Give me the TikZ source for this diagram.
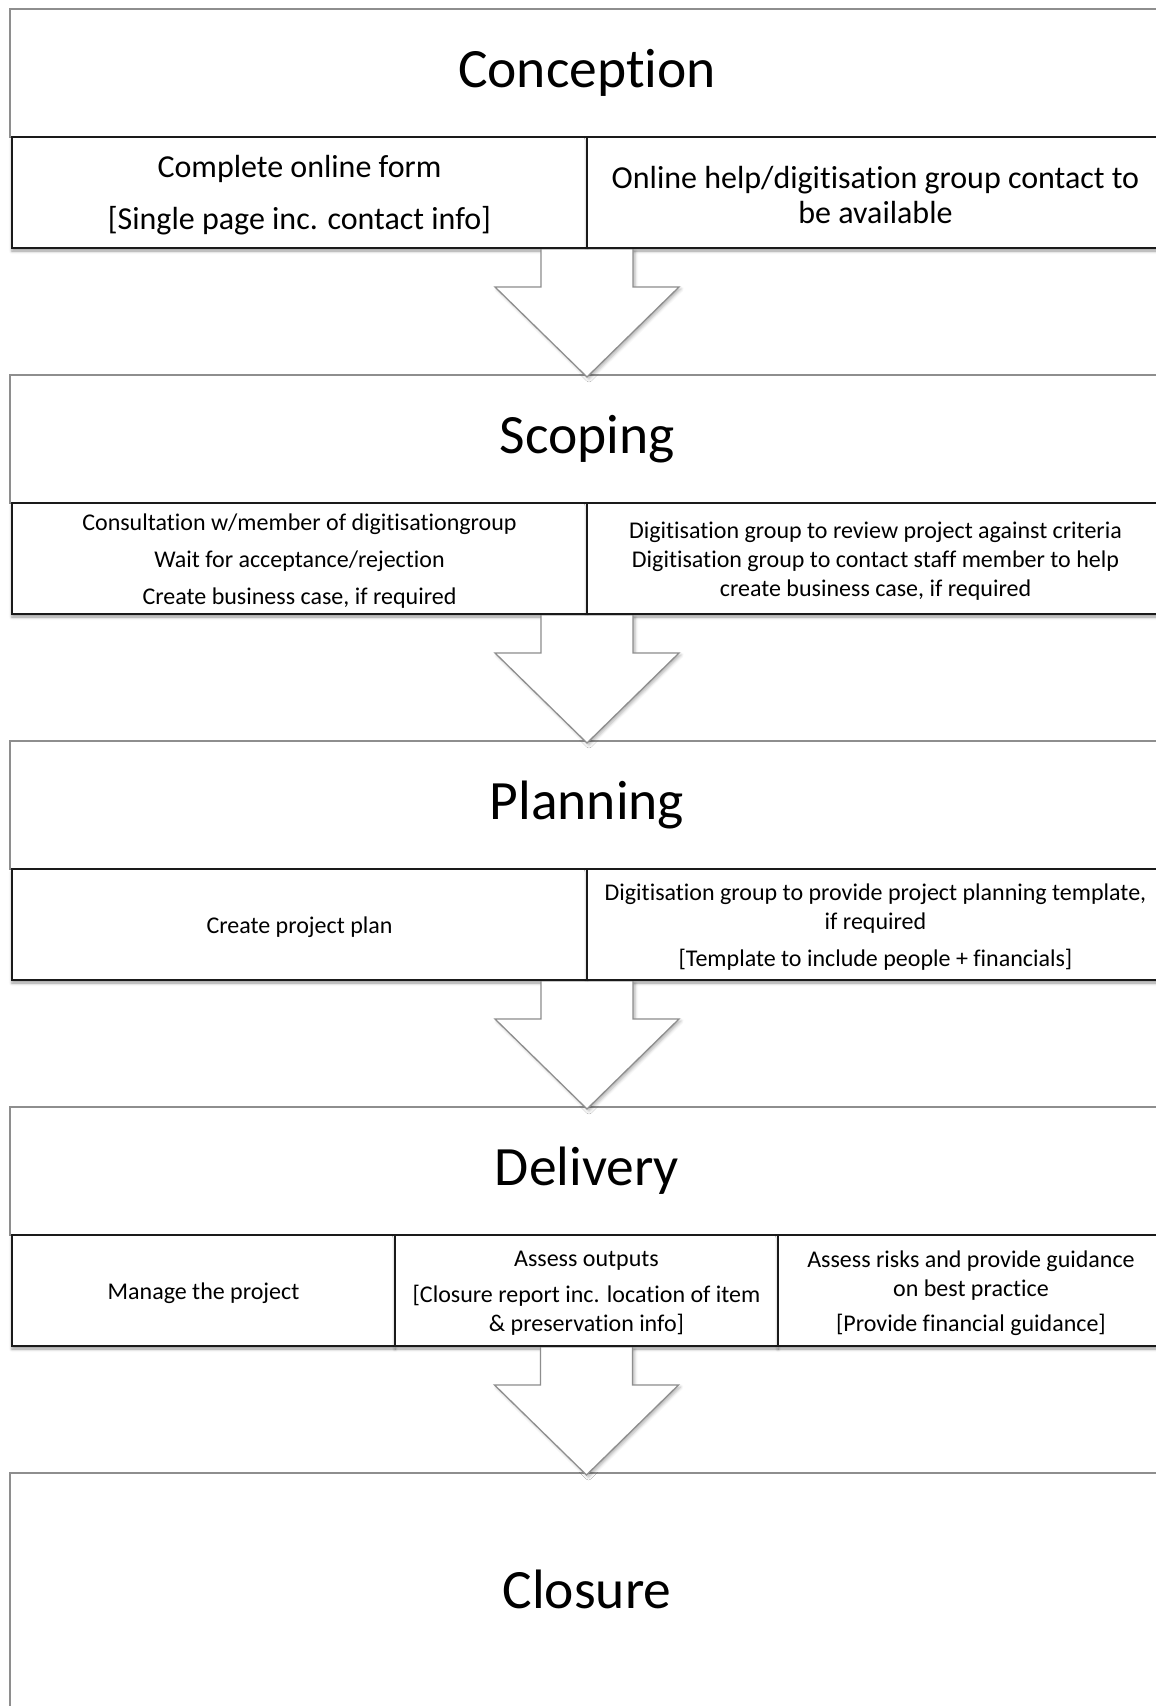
\documentclass[tikz,border=0pt]{standalone}
\usepackage{fontspec}
\setmainfont{Carlito}[Ligatures={NoCommon}]
\usetikzlibrary{shadows.blur,calc}
\definecolor{boxgray}{HTML}{8E8E8E}
\definecolor{tabline}{HTML}{1A1A1A}
\begin{document}
\begin{tikzpicture}[x=1pt,y=-1pt, every node/.style={outer sep=0pt},
  hdr/.style={draw=boxgray, line width=1.3pt, fill=white, anchor=north west,
    minimum width=1154pt, minimum height=128pt, inner sep=0pt,
    text height=36.6pt, text depth=8pt,
    font=\fontsize{55.5}{60}\selectfont},
  cell/.style={draw=tabline, line width=2.2pt, fill=white, anchor=north west,
    minimum height=111pt, inner sep=0pt,
    blur shadow={shadow xshift=0pt, shadow yshift=-3pt, shadow blur radius=3pt, shadow opacity=40}},
  celltext/.style={align=center, inner sep=0pt, yshift=-2.5pt,
    font=\fontsize{24}{29}\selectfont},
  bigtext/.style={celltext, font=\fontsize{32}{35}\selectfont},
  arrowfill/.style={fill=white, blur shadow={shadow xshift=2pt, shadow yshift=-2pt, shadow blur radius=3pt, shadow opacity=30}},
  arrowline/.style={draw=boxgray, line width=1.3pt, line join=miter}
]
\useasboundingbox (0,0) rectangle (1156,1706);
\clip (0,0) rectangle (1156,1706);

% stage headers
\node[hdr] (h1) at (10,9) {Conception};
\node[hdr] (h2) at (10,375) {Scoping};
\node[hdr] (h3) at (10,741) {Planning};
\node[hdr] (h4) at (10,1107) {Delivery};
\node[hdr, minimum height=242pt] (h5) at (10,1473) {Closure};

% Conception table
\node[cell, minimum width=575pt] (c1a) at (12,137) {};
\node[cell, minimum width=577pt] (c1b) at (c1a.north east) {};
\node[bigtext] (t1a) at (c1a.center)
  {Complete online form\\[17pt][Single page inc. contact info]};
\node[bigtext] (t1b) at (c1b.center)
  {Online help/digitisation group contact to\\be available};

% Scoping table
\node[cell, minimum width=575pt] (c2a) at (12,503) {};
\node[cell, minimum width=577pt] (c2b) at (c2a.north east) {};
\node[celltext] (t2a) at (c2a.center)
  {Consultation w/member of digitisationgroup\\[8pt]Wait for acceptance/rejection\\[8pt]Create business case, if required};
\node[celltext] (t2b) at (c2b.center)
  {Digitisation group to review project against criteria\\Digitisation group to contact staff member to help\\create business case, if required};

% Planning table
\node[cell, minimum width=575pt] (c3a) at (12,869) {};
\node[cell, minimum width=577pt] (c3b) at (c3a.north east) {};
\node[celltext] (t3a) at (c3a.center) {Create project plan};
\node[celltext] (t3b) at (c3b.center)
  {Digitisation group to provide project planning template,\\if required\\[8pt][Template to include people + financials]};

% Delivery table
\node[cell, minimum width=383pt] (c4a) at (12,1235) {};
\node[cell, minimum width=383pt] (c4b) at (c4a.north east) {};
\node[cell, minimum width=386pt] (c4c) at (c4b.north east) {};
\node[celltext] (t4a) at (c4a.center) {Manage the project};
\node[celltext] (t4b) at (c4b.center)
  {Assess outputs\\[7pt][Closure report inc. location of item\\\& preservation info]};
\node[celltext] (t4c) at (c4c.center)
  {Assess risks and provide guidance\\on best practice\\[6pt][Provide financial guidance]};

% arrow start points
\coordinate (a1) at (c1a.south east);
\coordinate (a2) at (c2a.south east);
\coordinate (a3) at (c3a.south east);
\coordinate (a4) at (c4b.south);

\foreach \a in {a1,a2,a3,a4}{
  \fill[arrowfill] (\a) ++(-46,1.5) -- ++(0,37.5) -- ++(-46,0) -- ++(92,90)
     -- ++(92,-90) -- ++(-46,0) -- ++(0,-37.5) -- cycle;
  \draw[arrowline] (\a) ++(-46,1.2) -- ++(0,37.8) -- ++(-46,0) -- ++(92,90)
     -- ++(92,-90) -- ++(-46,0) -- ++(0,-37.8);
}
\end{tikzpicture}
\end{document}
